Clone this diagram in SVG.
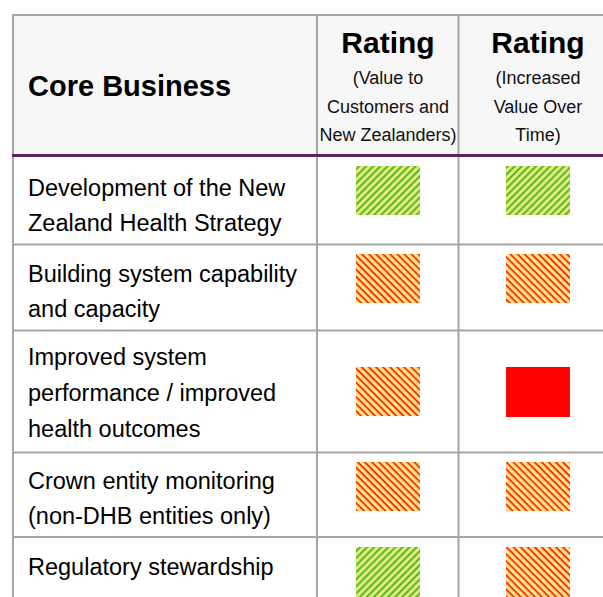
<svg xmlns="http://www.w3.org/2000/svg" width="603" height="597" viewBox="0 0 603 597">
<defs>
<style>
.grid{stroke:#a6a6a6;stroke-width:2;fill:none}
.h{font-family:"Liberation Sans",Arial,sans-serif;font-weight:bold;fill:#000}
.sub{font-family:"Liberation Sans",Arial,sans-serif;font-size:18px;fill:#111;text-anchor:middle}
.t{font-family:"Liberation Sans",Arial,sans-serif;font-size:23.5px;fill:#000}
</style>
<pattern id="pg" patternUnits="userSpaceOnUse" width="5" height="5" patternTransform="rotate(45)">
<rect width="5" height="5" fill="#f6ea80"/>
<rect x="0" width="3.2" height="5" fill="#cdea6a"/>
<rect x="0.7" width="1.6" height="5" fill="#38ad22"/>
</pattern>
<pattern id="pr" patternUnits="userSpaceOnUse" width="5" height="5" patternTransform="rotate(-45)">
<rect width="5" height="5" fill="#ffe682"/>
<rect x="0.5" width="1.5" height="5" fill="#ff0000"/>
</pattern>
</defs>
<rect width="603" height="597" fill="#fff"/>
<rect x="13" y="15" width="590" height="140" fill="#f7f7f7"/>
<g id="connectors">
<line class="grid" x1="12" y1="15" x2="603" y2="15"/>
<line class="grid" x1="13" y1="14" x2="13" y2="597"/>
<line class="grid" x1="317" y1="15" x2="317" y2="597"/>
<line class="grid" x1="458.5" y1="15" x2="458.5" y2="597"/>
<line class="grid" x1="12" y1="244.5" x2="603" y2="244.5"/>
<line class="grid" x1="12" y1="330.5" x2="603" y2="330.5"/>
<line class="grid" x1="12" y1="452.5" x2="603" y2="452.5"/>
<line class="grid" x1="12" y1="537" x2="603" y2="537"/>
<line x1="12" y1="155.5" x2="603" y2="155.5" stroke="#5e2160" stroke-width="3"/>
</g>
<g id="header">
<text class="h" x="28" y="96" font-size="29">Core Business</text>
<text class="h" x="388" y="53" font-size="30" text-anchor="middle">Rating</text>
<text class="sub" x="388" y="84">(Value to</text>
<text class="sub" x="388" y="113">Customers and</text>
<text class="sub" x="388" y="141">New Zealanders)</text>
<text class="h" x="538" y="53" font-size="30" text-anchor="middle">Rating</text>
<text class="sub" x="538" y="84">(Increased</text>
<text class="sub" x="538" y="113">Value Over</text>
<text class="sub" x="538" y="141">Time)</text>
</g>
<g id="row1">
<text class="t" x="28" y="196">Development of the New</text>
<text class="t" x="28" y="231">Zealand Health Strategy</text>
<rect x="356" y="166" width="64" height="49" fill="url(#pg)"/>
<rect x="506" y="166" width="64" height="49" fill="url(#pg)"/>
</g>
<g id="row2">
<text class="t" x="28" y="282">Building system capability</text>
<text class="t" x="28" y="317">and capacity</text>
<rect x="356" y="254" width="64" height="49" fill="url(#pr)"/>
<rect x="506" y="254" width="64" height="49" fill="url(#pr)"/>
</g>
<g id="row3">
<text class="t" x="28" y="365">Improved system</text>
<text class="t" x="28" y="401">performance / improved</text>
<text class="t" x="28" y="437">health outcomes</text>
<rect x="356" y="367" width="64" height="49" fill="url(#pr)"/>
<rect x="506" y="367" width="64" height="50" fill="#ff0000"/>
</g>
<g id="row4">
<text class="t" x="28" y="489">Crown entity monitoring</text>
<text class="t" x="28" y="524">(non-DHB entities only)</text>
<rect x="356" y="462" width="64" height="49" fill="url(#pr)"/>
<rect x="506" y="462" width="64" height="49" fill="url(#pr)"/>
</g>
<g id="row5">
<text class="t" x="28" y="575">Regulatory stewardship</text>
<rect x="356" y="547" width="64" height="50" fill="url(#pg)"/>
<rect x="506" y="547" width="64" height="50" fill="url(#pr)"/>
</g>
</svg>
